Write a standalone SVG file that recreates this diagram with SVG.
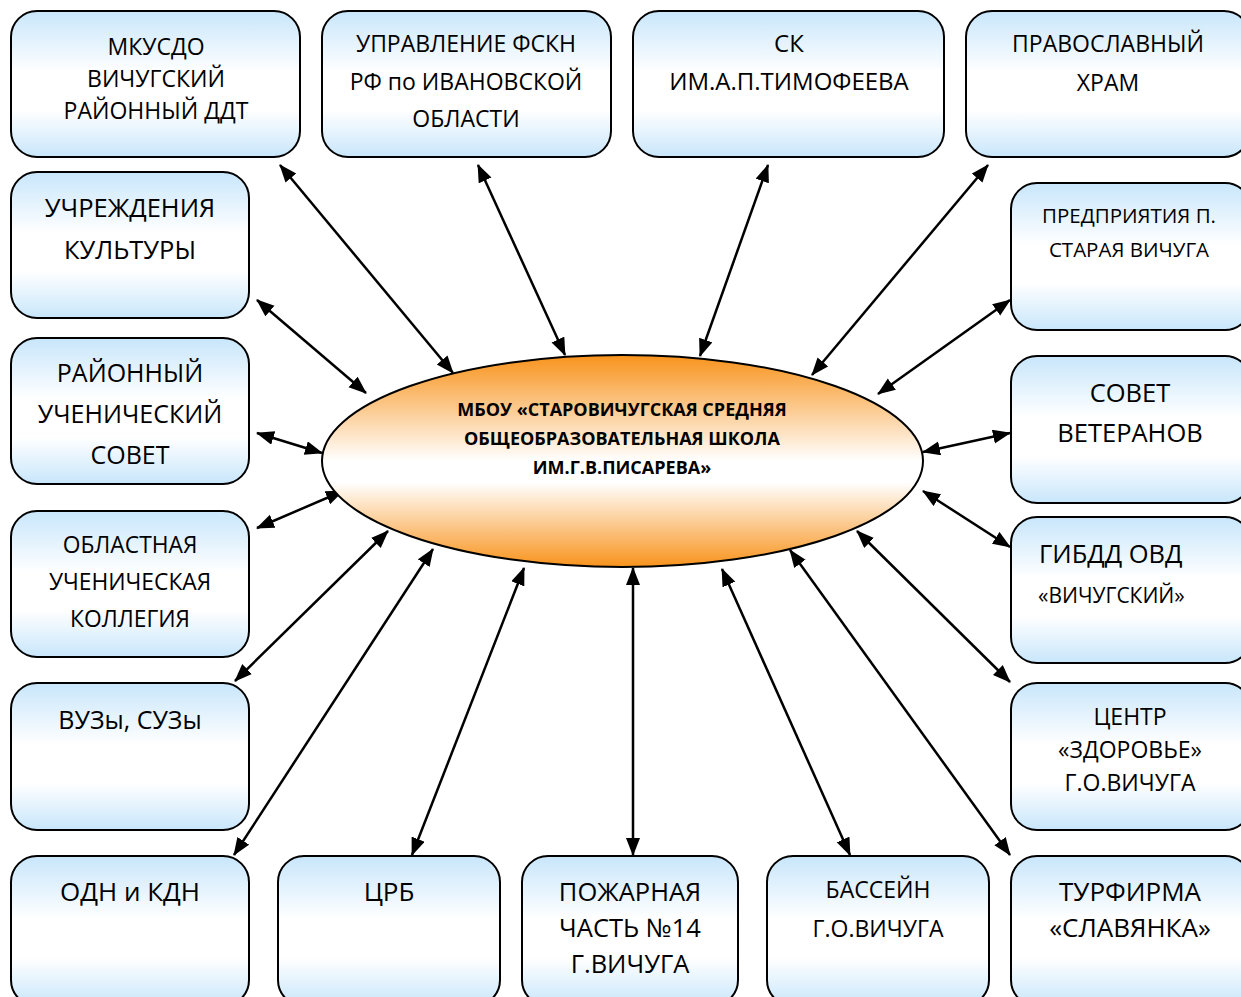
<svg xmlns="http://www.w3.org/2000/svg" width="1241" height="997" viewBox="0 0 1241 997">
<style>
.box{fill:url(#gBox);stroke:#000;stroke-width:2}
.t{font-family:"Open Sans","Noto Sans",sans-serif;font-size:22px;fill:#000;text-anchor:middle}
.l{text-anchor:start}
.tb{font-family:"Open Sans","Noto Sans",sans-serif;font-size:18px;font-weight:bold;fill:#000;text-anchor:middle}
.c{stroke:#000;stroke-width:2.5;fill:none;marker-start:url(#ah);marker-end:url(#ah)}
</style>
<defs>
<linearGradient id="gBox" x1="0" y1="0" x2="0" y2="1">
<stop offset="0" stop-color="#c8e6fb"/>
<stop offset="0.42" stop-color="#ffffff"/>
<stop offset="0.68" stop-color="#ffffff"/>
<stop offset="1" stop-color="#c8e6fb"/>
</linearGradient>
<linearGradient id="gEll" x1="0" y1="0" x2="0" y2="1">
<stop offset="0" stop-color="#f8931c"/>
<stop offset="0.5" stop-color="#ffffff"/>
<stop offset="0.6" stop-color="#ffffff"/>
<stop offset="1" stop-color="#f8931c"/>
</linearGradient>
<marker id="ah" markerUnits="userSpaceOnUse" markerWidth="20" markerHeight="16" refX="17" refY="7" orient="auto-start-reverse">
<path d="M0,0 L18,7 L0,14 z" fill="#000"/>
</marker>
</defs>
<rect width="1241" height="997" fill="#fff"/>

<g id="connectors">
<line class="c" x1="280" y1="165" x2="453" y2="373"/>
<line class="c" x1="478" y1="165" x2="565" y2="355"/>
<line class="c" x1="768" y1="165" x2="700" y2="356"/>
<line class="c" x1="988" y1="165" x2="812" y2="375"/>
<line class="c" x1="257" y1="300" x2="366" y2="393"/>
<line class="c" x1="1010" y1="300" x2="878" y2="394"/>
<line class="c" x1="257" y1="433" x2="322" y2="453"/>
<line class="c" x1="1010" y1="433" x2="923" y2="452"/>
<line class="c" x1="257" y1="528" x2="343" y2="491"/>
<line class="c" x1="1010" y1="547" x2="923" y2="491"/>
<line class="c" x1="235" y1="681" x2="388" y2="531"/>
<line class="c" x1="1010" y1="682" x2="857" y2="531"/>
<line class="c" x1="234" y1="855" x2="433" y2="549"/>
<line class="c" x1="1010" y1="855" x2="790" y2="550"/>
<line class="c" x1="412" y1="855" x2="524" y2="568"/>
<line class="c" x1="850" y1="855" x2="722" y2="569"/>
<line class="c" x1="633" y1="855" x2="633" y2="568"/>
</g>

<g id="center">
<ellipse cx="622.5" cy="461" rx="300.5" ry="106" fill="url(#gEll)" stroke="#000" stroke-width="2"/>
<text class="tb" x="622" y="416">МБОУ «СТАРОВИЧУГСКАЯ СРЕДНЯЯ</text>
<text class="tb" x="622" y="445">ОБЩЕОБРАЗОВАТЕЛЬНАЯ ШКОЛА</text>
<text class="tb" x="622" y="474">ИМ.Г.В.ПИСАРЕВА»</text>
</g>

<g id="n1" font-size="23"><rect class="box" x="11" y="11" width="289" height="146" rx="26"/>
<text class="t" style="font-size:23px" x="156" y="55">МКУСДО</text><text class="t" style="font-size:23px" x="156" y="87">ВИЧУГСКИЙ</text><text class="t" style="font-size:23px" x="156" y="119">РАЙОННЫЙ ДДТ</text></g>
<g id="n2"><rect class="box" x="322" y="11" width="289" height="146" rx="26"/>
<text class="t" style="font-size:23px" x="466" y="52">УПРАВЛЕНИЕ ФСКН</text><text class="t" style="font-size:23px" x="466" y="90">РФ по ИВАНОВСКОЙ</text><text class="t" style="font-size:23px" x="466" y="127">ОБЛАСТИ</text></g>
<g id="n3"><rect class="box" x="633" y="11" width="311" height="146" rx="26"/>
<text class="t" style="font-size:24px" x="789" y="52">СК</text><text class="t" style="font-size:24px" x="789" y="90">ИМ.А.П.ТИМОФЕЕВА</text></g>
<g id="n4"><rect class="box" x="966" y="11" width="284" height="146" rx="26"/>
<text class="t" style="font-size:23px" x="1108" y="52">ПРАВОСЛАВНЫЙ</text><text class="t" style="font-size:23px" x="1108" y="91">ХРАМ</text></g>
<g id="n5"><rect class="box" x="11" y="172" width="238" height="146" rx="26"/>
<text class="t" style="font-size:25.5px" x="130" y="217">УЧРЕЖДЕНИЯ</text><text class="t" style="font-size:25.5px" x="130" y="259">КУЛЬТУРЫ</text></g>
<g id="n6"><rect class="box" x="11" y="338" width="238" height="146" rx="26"/>
<text class="t" style="font-size:25px" x="130" y="382">РАЙОННЫЙ</text><text class="t" style="font-size:25px" x="130" y="423">УЧЕНИЧЕСКИЙ</text><text class="t" style="font-size:25px" x="130" y="464">СОВЕТ</text></g>
<g id="n7"><rect class="box" x="11" y="511" width="238" height="146" rx="26"/>
<text class="t" style="font-size:22.8px" x="130" y="553">ОБЛАСТНАЯ</text><text class="t" style="font-size:22.8px" x="130" y="590">УЧЕНИЧЕСКАЯ</text><text class="t" style="font-size:22.8px" x="130" y="627">КОЛЛЕГИЯ</text></g>
<g id="n8"><rect class="box" x="11" y="683" width="238" height="147" rx="26"/>
<text class="t" style="font-size:25px" x="130" y="729">ВУЗы, СУЗы</text></g>
<g id="n9"><rect class="box" x="11" y="856" width="238" height="150" rx="26"/>
<text class="t" style="font-size:26px" x="130" y="901">ОДН и КДН</text></g>
<g id="n10"><rect class="box" x="278" y="856" width="222" height="150" rx="26"/>
<text class="t" style="font-size:26px" x="389" y="901">ЦРБ</text></g>
<g id="n11"><rect class="box" x="522" y="856" width="216" height="150" rx="26"/>
<text class="t" style="font-size:25.5px" x="630" y="901">ПОЖАРНАЯ</text><text class="t" style="font-size:25.5px" x="630" y="937">ЧАСТЬ №14</text><text class="t" style="font-size:25.5px" x="630" y="973">Г.ВИЧУГА</text></g>
<g id="n12"><rect class="box" x="767" y="856" width="222" height="150" rx="26"/>
<text class="t" style="font-size:23px" x="878" y="898">БАССЕЙН</text><text class="t" style="font-size:23px" x="878" y="937">Г.О.ВИЧУГА</text></g>
<g id="n13"><rect class="box" x="1011" y="856" width="240" height="150" rx="26"/>
<text class="t" style="font-size:26px" x="1130" y="901">ТУРФИРМА</text><text class="t" style="font-size:26px" x="1130" y="937">«СЛАВЯНКА»</text></g>
<g id="n14"><rect class="box" x="1011" y="183" width="240" height="147" rx="26"/>
<text class="t" style="font-size:20.5px" x="1129" y="223">ПРЕДПРИЯТИЯ П.</text><text class="t" style="font-size:20.5px" x="1129" y="257">СТАРАЯ ВИЧУГА</text></g>
<g id="n15"><rect class="box" x="1011" y="356" width="240" height="147" rx="26"/>
<text class="t" style="font-size:25.5px" x="1130" y="402">СОВЕТ</text><text class="t" style="font-size:25.5px" x="1130" y="442">ВЕТЕРАНОВ</text></g>
<g id="n16"><rect class="box" x="1011" y="517" width="240" height="146" rx="26"/>
<text class="t l" style="font-size:25.5px" x="1039" y="563">ГИБДД ОВД</text><text class="t l" style="font-size:21px" x="1038" y="603">«ВИЧУГСКИЙ»</text></g>
<g id="n17"><rect class="box" x="1011" y="683" width="240" height="147" rx="26"/>
<text class="t" style="font-size:23px" x="1130" y="725">ЦЕНТР</text><text class="t" style="font-size:23px" x="1130" y="758">«ЗДОРОВЬЕ»</text><text class="t" style="font-size:23px" x="1130" y="791">Г.О.ВИЧУГА</text></g>
</svg>
